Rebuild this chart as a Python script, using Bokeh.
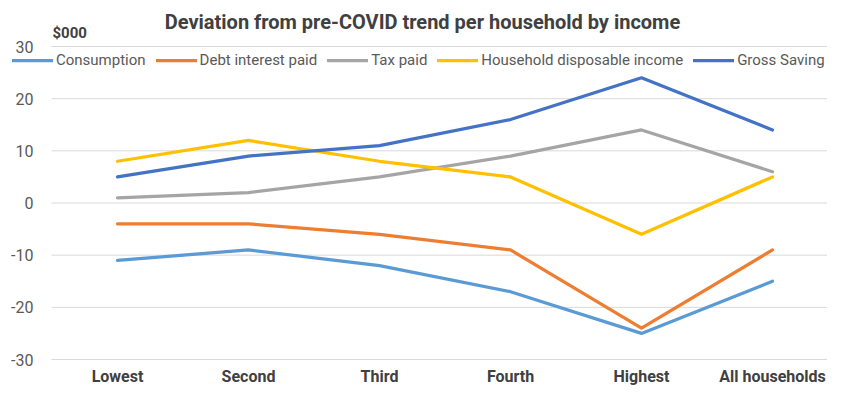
from bokeh.plotting import figure
from bokeh.models import Range1d, Legend, LegendItem, Label, ColumnDataSource
from bokeh.embed import file_html
from bokeh.resources import INLINE

categories = ["Lowest", "Second", "Third", "Fourth", "Highest", "All households"]
consumption = [-11, -9, -12, -17, -25, -15]
debt_interest = [-4, -4, -6, -9, -24, -9]
tax_paid = [1, 2, 5, 9, 14, 6]
disposable_income = [8, 12, 8, 5, -6, 5]
gross_saving = [5, 9, 11, 16, 24, 14]
y_ticks = [-30, -20, -10, 0, 10, 20, 30]
y_tick_labels = ["-30", "-20", "-10", "0", "10", "20", "30"]

series = [
    ("Consumption", consumption, "#5B9BD5"),
    ("Debt interest paid", debt_interest, "#ED7D31"),
    ("Tax paid", tax_paid, "#A5A5A5"),
    ("Household disposable income", disposable_income, "#FFC000"),
    ("Gross Saving", gross_saving, "#4472C4"),
]

FONT = "Roboto"
W, H = 827, 386
# layout (pixels in the canvas)
first_x, step = 117.0, 131.0          # centre of first category, category spacing
grid_left_px = 51.0
ylab_right_px = 33.0
top30_px, bot30_px = 46.0, 359.0      # pixel rows of the +30 / -30 grid lines
xlab_px = 376.0
ppu = (bot30_px - top30_px) / 60.0

def px_to_x(px):
    return (px - first_x) / step

def py_to_y(py):
    return 30 + (top30_px - py) / ppu

idx = list(range(len(categories)))
x_start, x_end = px_to_x(0), px_to_x(W)
y_start, y_end = py_to_y(H), py_to_y(0)

p = figure(width=W, height=H, x_range=Range1d(x_start, x_end), y_range=Range1d(y_start, y_end),
           output_backend="svg", toolbar_location=None, title=None,
           min_border_left=0, min_border_right=0, min_border_top=0, min_border_bottom=0)
p.outline_line_color = None
p.background_fill_color = "white"
p.border_fill_color = "white"
p.xgrid.grid_line_color = None
p.ygrid.grid_line_color = None
p.xaxis.visible = False
p.yaxis.visible = False

# horizontal grid lines (from the plot-area left edge to the right edge)
gx0 = px_to_x(grid_left_px)
p.segment(x0=[gx0] * len(y_ticks), x1=[x_end] * len(y_ticks), y0=y_ticks, y1=y_ticks,
          line_color="#D9D9D9", line_width=1)
# y tick labels
p.text(x=[px_to_x(ylab_right_px)] * len(y_ticks), y=y_ticks, text=y_tick_labels,
       text_align="right", text_baseline="middle", text_font={"value": FONT},
       text_font_size="16px", text_color="#595959")
# category labels
p.text(x=idx, y=[py_to_y(xlab_px)] * len(idx), text=categories,
       text_align="center", text_baseline="middle", text_font={"value": FONT},
       text_font_size="16px", text_font_style="bold", text_color="#404040")

items = []
for name, vals, color in series:
    src = ColumnDataSource(dict(x=idx, y=vals))
    r = p.line("x", "y", source=src, line_color=color, line_width=3.25,
               line_join="round", line_cap="round")
    items.append(LegendItem(label=name, renderers=[r]))

legend = Legend(items=items, orientation="horizontal", location=(12, int(H - 69)),
                glyph_width=41, glyph_height=14, label_standoff=3, spacing=10,
                padding=0, margin=0, background_fill_alpha=0, border_line_color=None,
                label_text_font=FONT, label_text_font_size="15px", label_text_color="#595959")
p.add_layout(legend, "center")

title = Label(x=px_to_x(422), y=py_to_y(21),
              text="Deviation from pre-COVID trend per household by income",
              text_font=FONT, text_font_size="20px", text_font_style="bold",
              text_color="#404040", text_align="center", text_baseline="middle")
p.add_layout(title)
unit = Label(x=px_to_x(52), y=py_to_y(32), text="$000",
             text_font=FONT, text_font_size="15px", text_font_style="bold",
             text_color="#404040", text_align="left", text_baseline="middle")
p.add_layout(unit)

open("out.html", "w").write(file_html(p, INLINE))
